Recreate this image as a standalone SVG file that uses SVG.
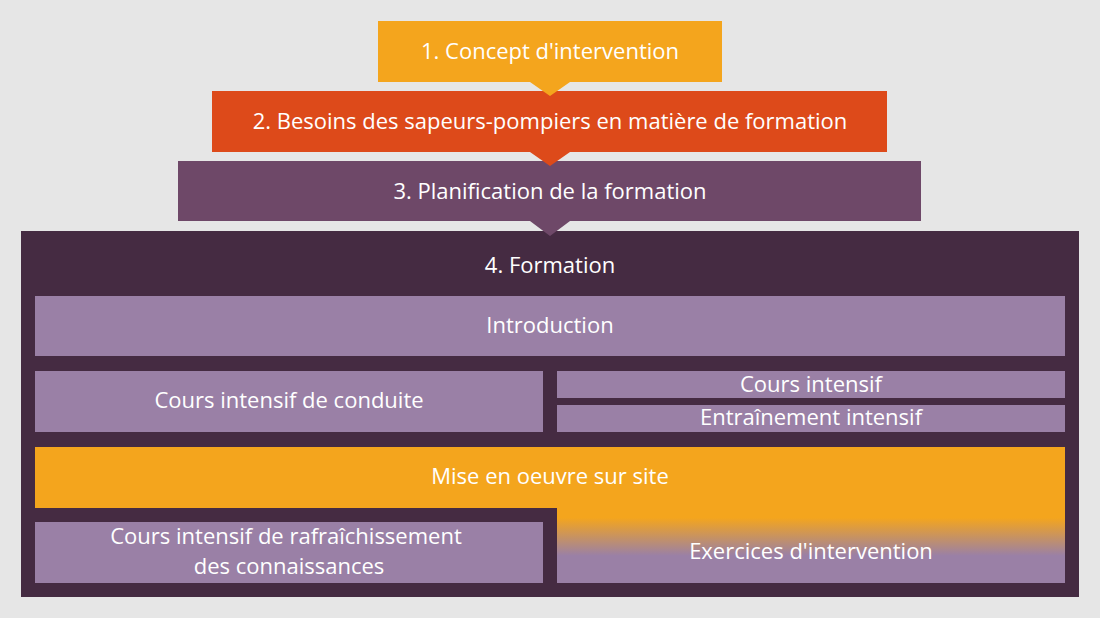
<svg xmlns="http://www.w3.org/2000/svg" width="1100" height="618" viewBox="0 0 1100 618">
<style>
text{font-family:"Open Sans","Liberation Sans",sans-serif;font-size:22px;fill:#fff;text-anchor:middle}
.lp{fill:#9a80a6}
</style>
<defs>
<linearGradient id="g" x1="0" y1="447" x2="0" y2="583" gradientUnits="userSpaceOnUse">
<stop offset="0.52" stop-color="#f4a51d"/><stop offset="0.8" stop-color="#9a80a6"/>
</linearGradient>
</defs>
<rect width="1100" height="618" fill="#e6e6e6"/>
<g id="connectors"></g>
<g id="n4"><rect x="21" y="231" width="1058" height="366" fill="#452b42"/><text x="550" y="273">4. Formation</text></g>
<g id="n3"><path d="M178 161H921V221H570L550 236L530 221H178Z" fill="#6e4868"/><text x="550" y="199">3. Planification de la formation</text></g>
<g id="n2"><path d="M212 91H887V152H570L550 166L530 152H212Z" fill="#dd4a1a"/><text x="550" y="129">2. Besoins des sapeurs-pompiers en matière de formation</text></g>
<g id="n1"><path d="M378 21H722V82H570L550 96L530 82H378Z" fill="#f4a51d"/><text x="550" y="59">1. Concept d'intervention</text></g>
<g id="intro"><rect class="lp" x="35" y="296" width="1030" height="60"/><text x="550" y="333">Introduction</text></g>
<g id="conduite"><rect class="lp" x="35" y="371" width="508" height="61"/><text x="289" y="408">Cours intensif de conduite</text></g>
<g id="ci"><rect class="lp" x="557" y="371" width="508" height="27"/><text x="811" y="392">Cours intensif</text></g>
<g id="ei"><rect class="lp" x="557" y="405" width="508" height="27"/><text x="811" y="425">Entraînement intensif</text></g>
<g id="mise"><path d="M35 447H1065V583H557V508H35Z" fill="url(#g)"/><text x="550" y="484">Mise en oeuvre sur site</text><text x="811" y="559">Exercices d'intervention</text></g>
<g id="rafr"><rect class="lp" x="35" y="522" width="508" height="61"/><text x="286" y="544">Cours intensif de rafraîchissement</text><text x="289" y="574">des connaissances</text></g>
</svg>
